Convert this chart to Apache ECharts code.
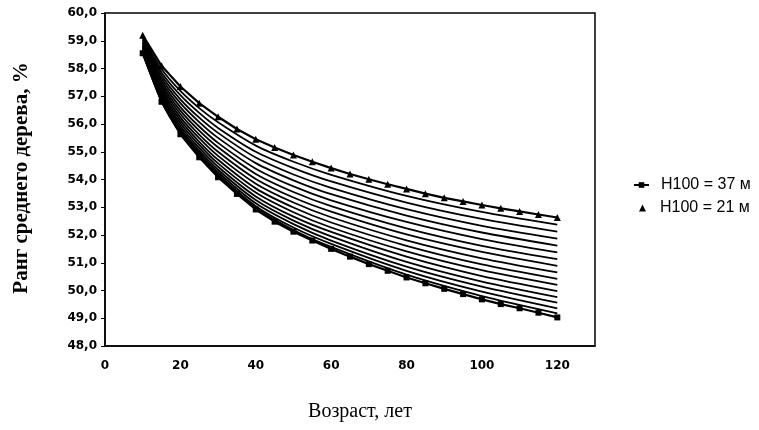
<!DOCTYPE html>
<html><head><meta charset="utf-8">
<script src="https://cdn.jsdelivr.net/npm/echarts@6/dist/echarts.min.js"></script>
<style>html,body{margin:0;padding:0;background:#fff}#c{width:759px;height:430px}</style>
</head><body><div id="c"></div>
<script>
// ages for the marked (boundary) curves
const agesFull = [10,15,20,25,30,35,40,45,50,55,60,65,70,75,80,85,90,95,100,105,110,115,120];
// H100 = 37 m (squares, lowest curve)
const h37 = [58.55,56.80,55.63,54.80,54.08,53.48,52.92,52.48,52.12,51.80,51.50,51.22,50.95,50.71,50.47,50.26,50.06,49.87,49.68,49.51,49.36,49.20,49.03];
// H100 = 21 m (triangles, highest curve)
const h21 = [59.20,58.10,57.35,56.75,56.26,55.82,55.45,55.15,54.88,54.64,54.41,54.20,54.01,53.83,53.66,53.49,53.34,53.21,53.08,52.96,52.85,52.74,52.63];
// ages for the unmarked intermediate curves
const agesMid = [10,15,20,25,30,40,50,60,80,100,120];
const h22 = [59.14,57.98,57.19,56.57,56.06,55.22,54.64,54.17,53.41,52.83,52.37];
const h23 = [59.08,57.86,57.04,56.40,55.86,55.00,54.41,53.93,53.17,52.58,52.12];
const h24 = [59.03,57.75,56.89,56.23,55.68,54.79,54.18,53.70,52.93,52.33,51.87];
const h25 = [58.97,57.64,56.75,56.07,55.50,54.59,53.97,53.47,52.70,52.09,51.62];
const h26 = [58.92,57.54,56.61,55.91,55.32,54.39,53.75,53.25,52.47,51.85,51.37];
const h27 = [58.87,57.44,56.48,55.76,55.16,54.20,53.55,53.04,52.24,51.61,51.13];
const h28 = [58.82,57.35,56.36,55.62,55.00,54.02,53.35,52.84,52.02,51.39,50.89];
const h29 = [58.78,57.26,56.24,55.49,54.85,53.85,53.17,52.64,51.81,51.16,50.65];
const h30 = [58.74,57.18,56.13,55.36,54.71,53.68,52.99,52.45,51.61,50.94,50.42];
const h31 = [58.70,57.10,56.03,55.25,54.58,53.53,52.82,52.27,51.41,50.73,50.20];
const h32 = [58.66,57.03,55.93,55.14,54.46,53.39,52.66,52.11,51.22,50.52,49.98];
const h33 = [58.63,56.96,55.85,55.04,54.35,53.26,52.52,51.95,51.03,50.32,49.76];
const h34 = [58.60,56.91,55.77,54.96,54.26,53.14,52.39,51.80,50.86,50.14,49.56];
const h35 = [58.58,56.86,55.71,54.89,54.18,53.04,52.27,51.68,50.71,49.96,49.36];
const h36 = [58.56,56.82,55.66,54.83,54.11,52.97,52.18,51.57,50.57,49.80,49.18];
const midSeries = [h22,h23,h24,h25,h26,h27,h28,h29,h30,h31,h32,h33,h34,h35,h36];
const midNames = ['22','23','24','25','26','27','28','29','30','31','32','33','34','35','36'];
const name37 = 'H100 = 37 м';
const name21 = 'H100 = 21 м';
const xTitle = 'Возраст, лет';
const yTitle = 'Ранг среднего дерева, %';

const zip = (xs, ys) => xs.map((x, i) => [x, ys[i]]);
const chart = echarts.init(document.getElementById('c'), null, {renderer: 'canvas'});
const series = midSeries.map((arr, i) => ({
  name: 'H100 = ' + midNames[i] + ' м', type: 'line', data: zip(agesMid, arr),
  showSymbol: false, smooth: 0.25,
  lineStyle: {color: '#000', width: 1.8}, silent: true, z: 2
}));
series.push({
  name: name37, type: 'line', data: zip(agesFull, h37), symbol: 'rect', symbolSize: 6,
  smooth: false, itemStyle: {color: '#000'}, lineStyle: {color: '#000', width: 2.2}, z: 3
});
series.push({
  name: name21, type: 'line', data: zip(agesFull, h21), symbol: 'triangle', symbolSize: 7,
  smooth: false, itemStyle: {color: '#000'}, lineStyle: {color: '#000', width: 2.2}, z: 3
});
const labelFont = {color: '#000', fontFamily: '"DejaVu Sans", Arial', fontWeight: 'bold', fontSize: 12};
const legendText = {color: '#000', fontFamily: '"Liberation Sans", Arial', fontSize: 16};
chart.setOption({
  animation: false,
  backgroundColor: '#fff',
  grid: {left: 105, right: 164, top: 13, bottom: 84, show: true, borderColor: '#000', borderWidth: 1.5},
  xAxis: {
    type: 'value', min: 0, max: 130, interval: 20,
    axisLine: {show: true, onZero: false, lineStyle: {color: '#000', width: 1.5}},
    axisTick: {show: false}, splitLine: {show: false},
    axisLabel: Object.assign({margin: 14, formatter: v => v > 120 ? '' : String(v)}, labelFont)
  },
  yAxis: {
    type: 'value', min: 48, max: 60, interval: 1,
    axisLine: {show: true, lineStyle: {color: '#000', width: 1.5}},
    axisTick: {show: true, length: 4, lineStyle: {color: '#000'}}, splitLine: {show: false},
    axisLabel: Object.assign({margin: 8, formatter: v => v.toFixed(1).replace('.', ',')}, labelFont)
  },
  legend: [
    {data: [name37], orient: 'vertical', left: 628, top: 172, itemWidth: 15, itemHeight: 7,
     textStyle: Object.assign({padding: [0,0,0,7]}, legendText)},
    {data: [{name: name21, icon: 'triangle'}], orient: 'vertical', left: 634, top: 195, itemWidth: 7, itemHeight: 7,
     textStyle: Object.assign({padding: [0,0,0,9]}, legendText)}
  ],
  graphic: [
    {type: 'text', x: 22, y: 178, rotation: Math.PI / 2,
     style: {text: yTitle, font: 'bold 21px "Liberation Serif"', fill: '#000', textAlign: 'center', textVerticalAlign: 'middle'}},
    {type: 'text', x: 360, y: 412,
     style: {text: xTitle, font: '20px "Liberation Serif"', fill: '#000', textAlign: 'center', textVerticalAlign: 'middle'}}
  ],
  series: series
});
</script></body></html>
